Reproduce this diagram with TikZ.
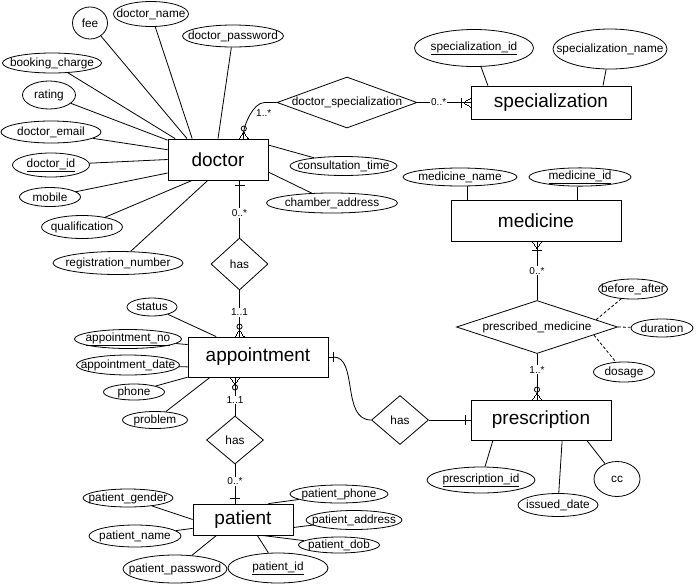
\documentclass[tikz,border=0pt]{standalone}
\usepackage{fontspec}
\setmainfont{Liberation Sans}
\usetikzlibrary{arrows.meta,shapes.geometric}
\pgfdeclarearrow{
  name = Crow,
  parameters = {\the\pgfarrowlength,\the\pgfarrowwidth,\the\pgfarrowlinewidth},
  setup code = {
    \pgfarrowssettipend{0pt}
    \pgfarrowssetbackend{-\pgfarrowlength}
    \pgfarrowssetlineend{-\pgfarrowlength}
    \pgfarrowssavethe\pgfarrowlength
    \pgfarrowssavethe\pgfarrowwidth
    \pgfarrowssavethe\pgfarrowlinewidth
  },
  drawing code = {
    \pgfsetlinewidth{\pgfarrowlinewidth}
    \pgfsetdash{}{0pt}
    \pgfpathmoveto{\pgfqpoint{0pt}{.5\pgfarrowwidth}}
    \pgfpathlineto{\pgfqpoint{-\pgfarrowlength}{0pt}}
    \pgfpathlineto{\pgfqpoint{0pt}{-.5\pgfarrowwidth}}
    \pgfpathmoveto{\pgfqpoint{-\pgfarrowlength}{0pt}}
    \pgfpathlineto{\pgfqpoint{0pt}{0pt}}
    \pgfusepathqstroke
  },
  defaults = {length = 7pt, width = 9pt}
}
\pgfdeclarearrow{
  name = OneBar,
  parameters = {\the\pgfarrowlength,\the\pgfarrowwidth,\the\pgfarrowlinewidth},
  setup code = {
    \pgfarrowssettipend{0pt}
    \pgfarrowssetbackend{-\pgfarrowlength}
    \pgfarrowssetlineend{-\pgfarrowlength}
    \pgfarrowssavethe\pgfarrowlength
    \pgfarrowssavethe\pgfarrowwidth
    \pgfarrowssavethe\pgfarrowlinewidth
  },
  drawing code = {
    \pgfsetlinewidth{\pgfarrowlinewidth}
    \pgfsetdash{}{0pt}
    \pgfpathmoveto{\pgfqpoint{-\pgfarrowlength}{.5\pgfarrowwidth}}
    \pgfpathlineto{\pgfqpoint{-\pgfarrowlength}{-.5\pgfarrowwidth}}
    \pgfpathmoveto{\pgfqpoint{-\pgfarrowlength}{0pt}}
    \pgfpathlineto{\pgfqpoint{0pt}{0pt}}
    \pgfusepathqstroke
  },
  defaults = {length = 5pt, width = 9pt}
}

\begin{document}
\begin{tikzpicture}[x=1pt, y=-1pt, line width=0.8pt,
    entity/.style 2 args={draw, rectangle, minimum width=#1, minimum height=#2, inner sep=0pt, font=\fontsize{19}{22}\selectfont},
    attr/.style 2 args={draw, ellipse, minimum width=#1, minimum height=#2, inner sep=0pt, font=\fontsize{11.8}{14}\selectfont,
        execute at begin node={\hbox to 0pt\bgroup\hss}, execute at end node={\hss\egroup}},
    rel/.style 2 args={draw, diamond, minimum width=#1, minimum height=#2, inner sep=0pt, font=\fontsize{11.8}{14}\selectfont,
        execute at begin node={\hbox to 0pt\bgroup\hss}, execute at end node={\hss\egroup}},
    card/.style={font=\fontsize{10}{12}\selectfont, fill=white, inner sep=1pt},
    ringfoot/.style={-{Circle[open, length=6pt, sep=0pt] Crow}},
    barfoot/.style={-{OneBar[length=2pt, sep=0pt] Crow}},
    onebar/.style={-{OneBar}},
    dashline/.style={dash pattern=on 3pt off 2pt}]
    \useasboundingbox (0,0) rectangle (697,587);

    \node[entity={100pt}{41pt}] (doctor)         at (218,159.5) {doctor};
    \node[entity={160pt}{33pt}] (specialization) at (551,102.5) {specialization};
    \node[entity={170pt}{41pt}] (medicine)       at (536,220.5) {medicine};
    \node[entity={140pt}{40pt}] (appointment)    at (258,357)   {appointment};
    \node[entity={140pt}{40pt}] (prescription)   at (541,420)   {prescription};
    \node[entity={100pt}{31pt}] (patient)        at (243,519.5) {patient};

    \node[rel={140pt}{51pt}] (docspec)  at (347,102.5) {doctor\_specialization};
    \node[rel={57pt}{52pt}]  (hasappt)  at (239.5,264) {has};
    \node[rel={57pt}{48pt}]  (haspat)   at (235,440)   {has};
    \node[rel={57pt}{49pt}]  (haspres)  at (400,420)   {has};
    \node[rel={161pt}{53pt}] (prescmed) at (537,327)   {prescribed\_medicine};

    \node[attr={35pt}{32pt}]  (fee)      at (90,23)    {fee};
    \node[attr={75pt}{25pt}]  (docname)  at (151,14)   {doctor\_name};
    \node[attr={101pt}{22pt}] (docpass)  at (233,36)   {doctor\_password};
    \node[attr={99pt}{20pt}]  (booking)  at (52,63)    {booking\_charge};
    \node[attr={53pt}{28pt}]  (rating)   at (49,95)    {rating};
    \node[attr={100pt}{22pt}] (docemail) at (51,132)   {doctor\_email};
    \node[attr={77pt}{24pt}]  (docid)    at (51,165)   {\underline{doctor\_id}};
    \node[attr={61pt}{19pt}]  (mobile)   at (50,197)   {mobile};
    \node[attr={81pt}{23pt}]  (qualif)   at (82,227)   {qualification};
    \node[attr={130pt}{23pt}] (regnum)   at (118,263)  {registration\_number};
    \node[attr={107pt}{19pt}] (consult)  at (343.5,166) {consultation\_time};
    \node[attr={131pt}{20pt}] (chamber)  at (332,203)  {chamber\_address};

    \node[attr={119pt}{37pt}] (specid)   at (474,48)   {\underline{specialization\_id}};
    \node[attr={114pt}{40pt}] (specname) at (610,49)   {specialization\_name};
    \node[attr={114pt}{18pt}] (medname)  at (460,177)  {medicine\_name};
    \node[attr={102pt}{18pt}] (medid)    at (580,177)  {\underline{medicine\_id}};

    \node[attr={69pt}{20pt}]  (beforeafter) at (633,289) {before\_after};
    \node[attr={62pt}{18pt}]  (duration)    at (662,328) {duration};
    \node[attr={61pt}{20pt}]  (dosage)      at (624,372) {dosage};

    \node[attr={108pt}{26pt}] (prescid)  at (481,480)  {\underline{prescription\_id}};
    \node[attr={80pt}{23pt}]  (issued)   at (558,505)  {issued\_date};
    \node[attr={46pt}{35pt}]  (cc)       at (617,479)  {cc};

    \node[attr={50pt}{18pt}]  (status)   at (152,307)  {status};
    \node[attr={107pt}{19pt}] (apptno)   at (128,339)  {\underline{appointment\_no}};
    \node[attr={103pt}{20pt}] (apptdate) at (128,365)  {appointment\_date};
    \node[attr={61pt}{16pt}]  (phone)    at (134,392)  {phone};
    \node[attr={65pt}{17pt}]  (problem)  at (155,420)  {problem};

    \node[attr={90pt}{18pt}]  (pgender)  at (128,498)  {patient\_gender};
    \node[attr={92pt}{22pt}]  (pname)    at (135,536)  {patient\_name};
    \node[attr={104pt}{28pt}] (ppass)    at (175,569)  {patient\_password};
    \node[attr={100pt}{30pt}] (pid)      at (278,568)  {\underline{patient\_id}};
    \node[attr={98pt}{18pt}]  (pphone)   at (339,494)  {patient\_phone};
    \node[attr={96pt}{19pt}]  (paddr)    at (354,520)  {patient\_address};
    \node[attr={81pt}{16pt}]  (pdob)     at (339,545)  {patient\_dob};

    \draw (fee)      -- (doctor.146);
    \draw (docname)  -- (doctor.141);
    \draw (docpass)  -- (doctor.90);
    \draw (booking)  -- (doctor.154);
    \draw (rating)   -- (doctor.159);
    \draw (docemail) -- (doctor.169);
    \draw (docid)    -- (doctor.180);
    \draw (mobile)   -- (doctor.195);
    \draw (qualif)   -- (doctor.219);
    \draw (regnum)   -- (doctor.244);
    \draw (consult)  -- (doctor.16);
    \draw (chamber)  -- (doctor.346);

    \draw (specid)   -- (specialization.165);
    \draw (specname) -- (specialization.18);
    \draw (medicine.163) -- (medicine.163 |- medname.south);
    \draw (medicine.27)  -- (medicine.27 |- medid.south);

    \draw[dashline] (prescmed.7)    -- (beforeafter);
    \draw[dashline] (prescmed.east) -- (duration);
    \draw[dashline] (prescmed.352)  -- (dosage);

    \draw (prescid)  -- (prescription.203);
    \draw (issued)   -- (prescription.316);
    \draw (cc)       -- (prescription.336);

    \draw (status)   -- (appointment.154);
    \draw (apptno)   -- (appointment.170);
    \draw (apptdate) -- (appointment.188);
    \draw (phone)    -- (appointment.196);
    \draw (problem)  -- (appointment.203);

    \draw (pgender)  -- (patient.180);
    \draw (pname)    -- (patient.190);
    \draw (ppass)    -- (patient.211);
    \draw (pid)      -- (patient.312);
    \draw (pphone)   -- (patient.32);
    \draw (paddr)    -- (patient.351);
    \draw (pdob)     -- (patient.320);

    \draw[ringfoot] (docspec.west) -- ++(-12,0) .. controls +(-12,0) and +(0,-12) .. node[card, fill=none, pos=0.3, anchor=north west] {1..*} (doctor.39);
    \draw[barfoot]  (docspec.east) -- node[card, pos=0.4] {0..*} (specialization.west);
    \draw[onebar]   (hasappt.north) -- node[card, pos=0.43] {0..*} (hasappt.north |- doctor.south);
    \draw[ringfoot] (hasappt.south) -- node[card, pos=0.47] {1..1} (hasappt.south |- appointment.north);
    \draw[ringfoot] (haspat.north)  -- node[card, pos=0.41] {1..1} (haspat.north |- appointment.south);
    \draw[onebar]   (haspat.south)  -- node[card, pos=0.43] {0..*} (haspat.south |- patient.north);
    \draw[onebar]   (haspres.west) .. controls +(-30,0) and +(30,0) .. (appointment.east);
    \draw[onebar]   (haspres.east) -- (prescription.west);
    \draw[barfoot]  (prescmed.north) -- node[card, pos=0.5] {0..*} (prescmed.north |- medicine.south);
    \draw[ringfoot] (prescmed.south) -- node[card, pos=0.35] {1..*} (prescmed.south |- prescription.north);
\end{tikzpicture}
\end{document}
